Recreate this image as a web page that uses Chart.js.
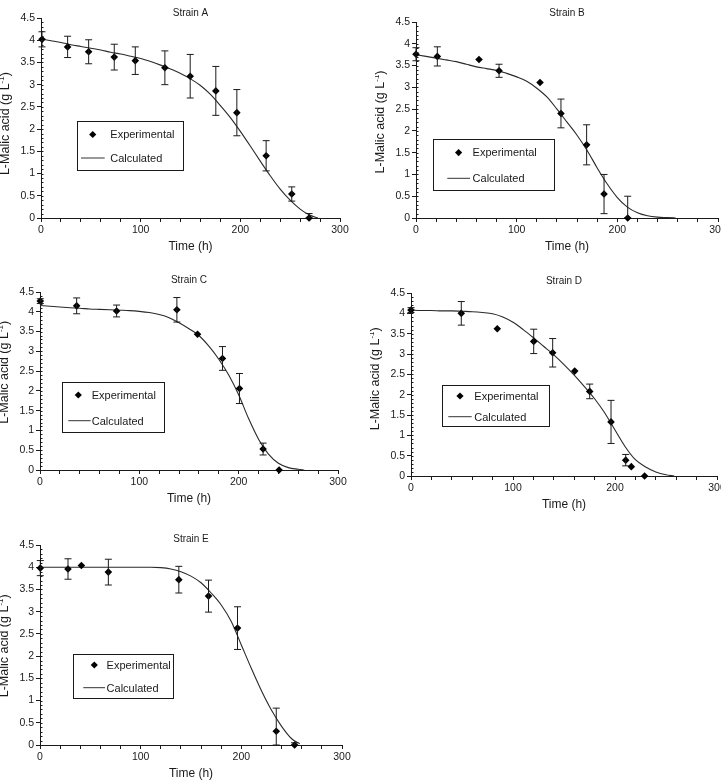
<!DOCTYPE html>
<html><head><meta charset="utf-8">
<script src="https://cdn.jsdelivr.net/npm/chart.js@4/dist/chart.umd.min.js"></script>
<style>
html,body{margin:0;padding:0;background:#fff;width:721px;height:781px;overflow:hidden;position:relative}
canvas{position:absolute;display:block}
</style></head><body>
<canvas id="cA"></canvas><canvas id="cB"></canvas><canvas id="cC"></canvas><canvas id="cD"></canvas><canvas id="cE"></canvas>
<script>
// ---------- DATA ----------
const xTickLabels = [0, 100, 200, 300];
const yTickLabels = [0, 0.5, 1, 1.5, 2, 2.5, 3, 3.5, 4, 4.5];

// Strain A
const timeA  = [1, 26.7, 47.8, 73.5, 94.6, 124.3, 149.7, 175.4, 196.5, 225.9, 251.6, 269];
const malicA = [4.02, 3.85, 3.74, 3.62, 3.54, 3.38, 3.19, 2.86, 2.37, 1.40, 0.54, 0.00];
const errA   = [0.17, 0.24, 0.27, 0.29, 0.31, 0.38, 0.49, 0.55, 0.52, 0.34, 0.16, 0.10];
const curveTimeA = [0,10,20,30,40,50,60,70,80,90,100,110,120,130,140,150,160,170,180,190,200,210,220,230,240,250,260,270,278];
const curveA     = [4.03,3.99,3.95,3.90,3.86,3.82,3.78,3.73,3.69,3.64,3.59,3.52,3.44,3.35,3.25,3.13,2.98,2.78,2.53,2.26,1.95,1.62,1.28,0.95,0.65,0.40,0.20,0.06,0.00];

// Strain B
const timeB  = [0, 21.2, 62.6, 82.5, 123.2, 144, 169.5, 186.8, 210.3];
const malicB = [3.76, 3.71, 3.64, 3.38, 3.11, 2.40, 1.68, 0.55, 0.00];
const errB   = [0.15, 0.22, 0, 0.15, 0, 0.33, 0.46, 0.45, 0.50];
const curveTimeB = [0,10,20,30,40,50,60,70,80,90,100,110,120,130,140,150,160,170,180,190,200,210,220,230,240,250,258];
const curveB     = [3.75,3.71,3.67,3.63,3.59,3.53,3.47,3.43,3.39,3.32,3.24,3.14,2.98,2.78,2.50,2.20,1.90,1.55,1.15,0.78,0.47,0.25,0.12,0.05,0.02,0.01,0.00];

// Strain C
const timeC  = [0.3, 36.9, 77.1, 137.8, 158.6, 183.7, 200.8, 224.6, 240.7];
const malicC = [4.27, 4.15, 4.02, 4.05, 3.43, 2.82, 2.06, 0.53, 0.00];
const errC   = [0.06, 0.20, 0.15, 0.31, 0, 0.30, 0.38, 0.15, 0];
const curveTimeC = [0,10,20,30,40,50,60,70,80,90,100,110,120,130,140,150,160,170,180,190,200,210,220,230,240,250,260,266];
const curveC     = [4.16,4.14,4.12,4.10,4.09,4.07,4.06,4.05,4.04,4.03,4.01,3.98,3.93,3.85,3.72,3.57,3.40,3.13,2.80,2.40,1.90,1.30,0.78,0.40,0.17,0.06,0.02,0.00];

// Strain D
const timeD  = [0, 49.3, 84.6, 120.3, 138.9, 160.5, 175.2, 196.1, 210.5, 216, 229];
const malicD = [4.08, 4.00, 3.62, 3.31, 3.03, 2.58, 2.08, 1.33, 0.39, 0.23, 0.00];
const errD   = [0.06, 0.29, 0, 0.30, 0.35, 0, 0.18, 0.53, 0.14, 0, 0];
const curveTimeD = [0,10,20,30,40,50,60,70,80,90,100,110,120,130,140,150,160,170,180,190,200,210,220,230,240,250,258];
const curveD     = [4.08,4.07,4.07,4.06,4.06,4.05,4.04,4.02,3.99,3.91,3.78,3.60,3.40,3.19,2.98,2.74,2.48,2.20,1.90,1.55,1.13,0.72,0.40,0.22,0.10,0.03,0.00];

// Strain E
const timeE  = [0.3, 27.8, 41.1, 67.9, 137.9, 167.4, 196.2, 234.7, 252.9];
const malicE = [3.98, 3.96, 4.04, 3.89, 3.72, 3.35, 2.63, 0.31, 0.00];
const errE   = [0.17, 0.23, 0, 0.29, 0.30, 0.36, 0.48, 0.52, 0.05];
const curveTimeE = [0,20,40,60,80,100,110,120,130,140,150,160,170,180,190,200,210,220,230,240,250,258];
const curveE     = [4.00,4.00,4.00,4.00,4.00,4.00,4.00,3.99,3.96,3.90,3.80,3.65,3.42,3.15,2.78,2.25,1.72,1.22,0.78,0.42,0.14,0.03];

// ---------- LAYOUT ----------
const PAD_L = 41, PAD_T = 22, PAD_R = 30, PAD_B = 40;
const panels = [
  {id:'cA', title:'Strain A', area:{l:41,t:18,r:340,b:218}, time:timeA, malic:malicA, err:errA, ct:curveTimeA, cv:curveA,
   titleDy:4.7, yTitleDy:5.6, lg:{x:36,y:103,w:106,h:49,dx:15.7,r1:13.5,tx:33.3,l1:4,l2:27.7,r2:37}},
  {id:'cB', title:'Strain B', area:{l:416,t:22,r:718,b:218}, time:timeB, malic:malicB, err:errB, ct:curveTimeB, cv:curveB,
   titleDy:8.7, yTitleDy:2, lg:{x:17.3,y:117.3,w:120.7,h:50.7,dx:25.3,r1:13.3,tx:39.3,l1:14,l2:36.7,r2:39}},
  {id:'cC', title:'Strain C', area:{l:40,t:292,r:338,b:470}, time:timeC, malic:malicC, err:errC, ct:curveTimeC, cv:curveC,
   titleDy:11.3, yTitleDy:-8.7, lg:{x:22,y:90.3,w:101.7,h:50.4,dx:16.3,r1:12.7,tx:29.7,l1:6.3,l2:28.7,r2:38.4}},
  {id:'cD', title:'Strain D', area:{l:411,t:293,r:717,b:476}, time:timeD, malic:malicD, err:errD, ct:curveTimeD, cv:curveD,
   titleDy:12, yTitleDy:-5.7, lg:{x:31,y:92,w:106.7,h:40.7,dx:18,r1:11,tx:32.3,l1:6.3,l2:29.7,r2:31.7}},
  {id:'cE', title:'Strain E', area:{l:40,t:545,r:342,b:745}, time:timeE, malic:malicE, err:errE, ct:curveTimeE, cv:curveE,
   titleDy:6, yTitleDy:0.8, lg:{x:33.3,y:109,w:99.7,h:43.7,dx:21,r1:11,tx:33.3,l1:10,l2:31.7,r2:33.7}}
];

const FONT = '"Liberation Sans", Arial, Helvetica, sans-serif';
const INK = '#1a1a1a';

const decorPlugin = {
  id: 'decor',
  afterDatasetsDraw(chart) {
    const p = chart.options.plugins.decor;
    const ctx = chart.ctx, ca = chart.chartArea;
    const xs = chart.scales.x, ys = chart.scales.y;
    // error bars
    ctx.save();
    ctx.beginPath(); ctx.rect(ca.left - 5, ca.top - 5, ca.right - ca.left + 10, ca.bottom - ca.top + 5); ctx.clip();
    ctx.strokeStyle = INK; ctx.lineWidth = 1;
    p.err.forEach((e, i) => {
      if (!e) return;
      const v = p.malic[i];
      const x = xs.getPixelForValue(p.time[i]);
      const y1 = ys.getPixelForValue(v + e);
      const y2 = ys.getPixelForValue(Math.max(0, v - e));
      ctx.beginPath();
      ctx.moveTo(x, y1); ctx.lineTo(x, y2);
      ctx.moveTo(x - 3.5, y1); ctx.lineTo(x + 3.5, y1);
      ctx.moveTo(x - 3.5, y2); ctx.lineTo(x + 3.5, y2);
      ctx.stroke();
    });
    ctx.restore();
    // minor y ticks
    ctx.save();
    ctx.strokeStyle = INK; ctx.lineWidth = 1;
    ctx.beginPath();
    for (let k = 1; k < 45; k++) {
      const y = Math.round(ys.getPixelForValue(k / 10)) + 0.5;
      ctx.moveTo(ca.left, y); ctx.lineTo(ca.left + 2.5, y);
    }
    ctx.stroke();
    ctx.restore();
    // title
    ctx.save();
    ctx.fillStyle = INK;
    ctx.font = '10px ' + FONT;
    ctx.textAlign = 'center'; ctx.textBaseline = 'middle';
    ctx.fillText(p.title, (ca.left + ca.right) / 2, ca.top - p.titleDy);
    // x title
    ctx.font = '12px ' + FONT;
    ctx.fillText('Time (h)', (ca.left + ca.right) / 2, ca.bottom + 28.3);
    // y title with superscript
    ctx.translate(ca.left - 35, (ca.top + ca.bottom) / 2 + p.yTitleDy);
    ctx.rotate(-Math.PI / 2);
    ctx.textAlign = 'left';
    const s1 = 'L-Malic acid (g L', s2 = '-1', s3 = ')';
    ctx.font = '12.5px ' + FONT; const w1 = ctx.measureText(s1).width, w3 = ctx.measureText(s3).width;
    ctx.font = '8px ' + FONT; const w2 = ctx.measureText(s2).width;
    let x0 = -(w1 + w2 + w3) / 2;
    ctx.font = '12.5px ' + FONT; ctx.fillText(s1, x0, 0);
    ctx.font = '8px ' + FONT; ctx.fillText(s2, x0 + w1, -4);
    ctx.font = '12.5px ' + FONT; ctx.fillText(s3, x0 + w1 + w2, 0);
    ctx.restore();
    // legend
    const lg = p.lg;
    const bx = ca.left + lg.x, by = ca.top + lg.y;
    ctx.save();
    ctx.fillStyle = '#fff';
    ctx.fillRect(bx, by, lg.w, lg.h);
    ctx.strokeStyle = INK; ctx.lineWidth = 1;
    ctx.strokeRect(Math.round(bx) + 0.5, Math.round(by) + 0.5, Math.round(lg.w), Math.round(lg.h));
    const dx = bx + lg.dx, dy = by + lg.r1, r = 3.6;
    ctx.fillStyle = '#000';
    ctx.beginPath(); ctx.moveTo(dx, dy - r); ctx.lineTo(dx + r, dy); ctx.lineTo(dx, dy + r); ctx.lineTo(dx - r, dy); ctx.closePath(); ctx.fill();
    ctx.strokeStyle = '#333'; ctx.lineWidth = 1;
    ctx.beginPath(); ctx.moveTo(bx + lg.l1, by + lg.r2); ctx.lineTo(bx + lg.l2, by + lg.r2); ctx.stroke();
    ctx.fillStyle = INK; ctx.font = '11px ' + FONT; ctx.textAlign = 'left'; ctx.textBaseline = 'middle';
    ctx.fillText('Experimental', bx + lg.tx, by + lg.r1 + 0.5);
    ctx.fillText('Calculated', bx + lg.tx, by + lg.r2 + 1);
    ctx.restore();
  }
};

panels.forEach(p => {
  const a = p.area;
  const cv = document.getElementById(p.id);
  const W = a.r - a.l + PAD_L + PAD_R, H = a.b - a.t + PAD_T + PAD_B;
  cv.width = W; cv.height = H;
  cv.style.width = W + 'px'; cv.style.height = H + 'px';
  cv.style.left = (a.l - PAD_L) + 'px'; cv.style.top = (a.t - PAD_T) + 'px';
  new Chart(cv, {
    type: 'scatter',
    data: {
      datasets: [
        { label: 'Experimental', data: p.time.map((t, i) => ({x: t, y: p.malic[i]})),
          pointStyle: 'rectRot', pointRadius: 3.8, backgroundColor: '#000', borderColor: '#000', borderWidth: 0, clip: false, order: 0 },
        { label: 'Calculated', data: p.ct.map((t, i) => ({x: t, y: p.cv[i]})),
          showLine: true, pointRadius: 0, borderColor: '#2a2a2a', borderWidth: 1.1, cubicInterpolationMode: 'monotone', fill: false, order: 1 }
      ]
    },
    options: {
      responsive: false, animation: false, devicePixelRatio: 1,
      layout: { padding: { left: 0, top: PAD_T, right: PAD_R, bottom: 0 } },
      plugins: { legend: { display: false }, tooltip: { enabled: false }, title: { display: false },
        decor: { title: p.title, time: p.time, malic: p.malic, err: p.err, titleDy: p.titleDy, yTitleDy: p.yTitleDy, lg: p.lg } },
      scales: {
        x: { type: 'linear', min: 0, max: 300,
          afterFit: s => { s.height = PAD_B; },
          grid: { display: true, drawOnChartArea: false, drawTicks: true, tickLength: 4, color: INK },
          border: { display: true, color: INK, width: 1 },
          ticks: { stepSize: 20, autoSkip: false, maxRotation: 0, padding: 2, color: INK, font: { family: FONT, size: 10.5 },
            callback: v => xTickLabels.includes(v) ? String(v) : '' } },
        y: { type: 'linear', min: 0, max: 4.5,
          afterFit: s => { s.width = PAD_L; },
          grid: { display: true, drawOnChartArea: false, drawTicks: true, tickLength: 4, color: INK },
          border: { display: true, color: INK, width: 1 },
          ticks: { stepSize: 0.5, autoSkip: false, padding: 2, color: INK, font: { family: FONT, size: 10.5 },
            callback: v => { const r = Math.round(v * 10) / 10; return yTickLabels.includes(r) ? String(r) : ''; } } }
      }
    },
    plugins: [decorPlugin]
  });
});
</script>
</body></html>
